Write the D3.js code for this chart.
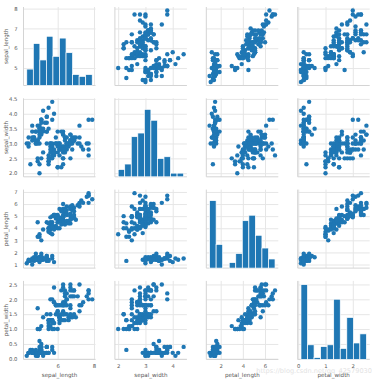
<!DOCTYPE html>
<html><head><meta charset="utf-8">
<script src="https://cdn.jsdelivr.net/npm/d3@7"></script>
<style>body{margin:0;background:#fff}svg{display:block}</style>
</head><body><svg id="c" width="377" height="380"></svg>
<script>
const sepal_length=[5.1,4.9,4.7,4.6,5.0,5.4,4.6,5.0,4.4,4.9,5.4,4.8,4.8,4.3,5.8,5.7,5.4,5.1,5.7,5.1,5.4,5.1,4.6,5.1,4.8,5.0,5.0,5.2,5.2,4.7,4.8,5.4,5.2,5.5,4.9,5.0,5.5,4.9,4.4,5.1,5.0,4.5,4.4,5.0,5.1,4.8,5.1,4.6,5.3,5.0,
7.0,6.4,6.9,5.5,6.5,5.7,6.3,4.9,6.6,5.2,5.0,5.9,6.0,6.1,5.6,6.7,5.6,5.8,6.2,5.6,5.9,6.1,6.3,6.1,6.4,6.6,6.8,6.7,6.0,5.7,5.5,5.5,5.8,6.0,5.4,6.0,6.7,6.3,5.6,5.5,5.5,6.1,5.8,5.0,5.6,5.7,5.7,6.2,5.1,5.7,
6.3,5.8,7.1,6.3,6.5,7.6,4.9,7.3,6.7,7.2,6.5,6.4,6.8,5.7,5.8,6.4,6.5,7.7,7.7,6.0,6.9,5.6,7.7,6.3,6.7,7.2,6.2,6.1,6.4,7.2,7.4,7.9,6.4,6.3,6.1,7.7,6.3,6.4,6.0,6.9,6.7,6.9,5.8,6.8,6.7,6.7,6.3,6.5,6.2,5.9];
const sepal_width=[3.5,3.0,3.2,3.1,3.6,3.9,3.4,3.4,2.9,3.1,3.7,3.4,3.0,3.0,4.0,4.4,3.9,3.5,3.8,3.8,3.4,3.7,3.6,3.3,3.4,3.0,3.4,3.5,3.4,3.2,3.1,3.4,4.1,4.2,3.1,3.2,3.5,3.6,3.0,3.4,3.5,2.3,3.2,3.5,3.8,3.0,3.8,3.2,3.7,3.3,
3.2,3.2,3.1,2.3,2.8,2.8,3.3,2.4,2.9,2.7,2.0,3.0,2.2,2.9,2.9,3.1,3.0,2.7,2.2,2.5,3.2,2.8,2.5,2.8,2.9,3.0,2.8,3.0,2.9,2.6,2.4,2.4,2.7,2.7,3.0,3.4,3.1,2.3,3.0,2.5,2.6,3.0,2.6,2.3,2.7,3.0,2.9,2.9,2.5,2.8,
3.3,2.7,3.0,2.9,3.0,3.0,2.5,2.9,2.5,3.6,3.2,2.7,3.0,2.5,2.8,3.2,3.0,3.8,2.6,2.2,3.2,2.8,2.8,2.7,3.3,3.2,2.8,3.0,2.8,3.0,2.8,3.8,2.8,2.8,2.6,3.0,3.4,3.1,3.0,3.1,3.1,3.1,2.7,3.2,3.3,3.0,2.5,3.0,3.4,3.0];
const petal_length=[1.4,1.4,1.3,1.5,1.4,1.7,1.4,1.5,1.4,1.5,1.5,1.6,1.4,1.1,1.2,1.5,1.3,1.4,1.7,1.5,1.7,1.5,1.0,1.7,1.9,1.6,1.6,1.5,1.4,1.6,1.6,1.5,1.5,1.4,1.5,1.2,1.3,1.4,1.3,1.5,1.3,1.3,1.3,1.6,1.9,1.4,1.6,1.4,1.5,1.4,
4.7,4.5,4.9,4.0,4.6,4.5,4.7,3.3,4.6,3.9,3.5,4.2,4.0,4.7,3.6,4.4,4.5,4.1,4.5,3.9,4.8,4.0,4.9,4.7,4.3,4.4,4.8,5.0,4.5,3.5,3.8,3.7,3.9,5.1,4.5,4.5,4.7,4.4,4.1,4.0,4.4,4.6,4.0,3.3,4.2,4.2,4.2,4.3,3.0,4.1,
6.0,5.1,5.9,5.6,5.8,6.6,4.5,6.3,5.8,6.1,5.1,5.3,5.5,5.0,5.1,5.3,5.5,6.7,6.9,5.0,5.7,4.9,6.7,4.9,5.7,6.0,4.8,4.9,5.6,5.8,6.1,6.4,5.6,5.1,5.6,6.1,5.6,5.5,4.8,5.4,5.6,5.1,5.1,5.9,5.7,5.2,5.0,5.2,5.4,5.1];
const petal_width=[0.2,0.2,0.2,0.2,0.2,0.4,0.3,0.2,0.2,0.1,0.2,0.2,0.1,0.1,0.2,0.4,0.4,0.3,0.3,0.3,0.2,0.4,0.2,0.5,0.2,0.2,0.4,0.2,0.2,0.2,0.2,0.4,0.1,0.2,0.2,0.2,0.2,0.1,0.2,0.2,0.3,0.3,0.2,0.6,0.4,0.3,0.2,0.2,0.2,0.2,
1.4,1.5,1.5,1.3,1.5,1.3,1.6,1.0,1.3,1.4,1.0,1.5,1.0,1.4,1.3,1.4,1.5,1.0,1.5,1.1,1.8,1.3,1.5,1.2,1.3,1.4,1.4,1.7,1.5,1.0,1.1,1.0,1.2,1.6,1.5,1.6,1.5,1.3,1.3,1.3,1.2,1.4,1.2,1.0,1.3,1.2,1.3,1.3,1.1,1.3,
2.5,1.9,2.1,1.8,2.2,2.1,1.7,1.8,1.8,2.5,2.0,1.9,2.1,2.0,2.4,2.3,1.8,2.2,2.3,1.5,2.3,2.0,2.0,1.8,2.1,1.8,1.8,1.8,2.1,1.6,1.9,2.0,2.2,1.5,1.4,2.3,2.4,1.8,1.8,2.1,2.4,2.3,1.9,2.3,2.5,2.3,1.9,2.0,2.3,1.8];

const varNames=["sepal_length","sepal_width","petal_length","petal_width"];
const xTickValues=[[6,8],[2,3,4],[2,4,6],[0,1,2]];
const yTickValues=[[5,6,7,8],[2.0,2.5,3.0,3.5,4.0,4.5],[1,2,3,4,5,6,7],[0.0,0.5,1.0,1.5,2.0,2.5]];
const yTickLabels=[["5","6","7","8"],["2.0","2.5","3.0","3.5","4.0","4.5"],["1","2","3","4","5","6","7"],["0.0","0.5","1.0","1.5","2.0","2.5"]];
const xTickLabels=[["6","8"],["2","3","4"],["2","4","6"],["0","1","2"]];
const watermark="https://blog.csdn.net/qq_42579030";

const cols=[sepal_length,sepal_width,petal_length,petal_width];
const n=4;
const L0=23.5, CS=91.4, W=72, T0=7, RS=91.3, H=78.5;
const blue="#1f77b4", gridC="#e6e6e6", spineC="#d4d4d4", txtC="#555", font="DejaVu Sans";
const tickFs=5.3, labFs=5.6;

const svg=d3.select("#c");
const domains=cols.map(c=>{const [a,b]=d3.extent(c);const p=(b-a)*0.05;return [a-p,b+p];});
const hists=cols.map(c=>{const [a,b]=d3.extent(c);
  const th=d3.range(1,10).map(k=>a+k*(b-a)/10);
  return d3.bin().domain([a,b]).thresholds(th)(c);});
const maxCount=d3.max(hists,h=>d3.max(h,b=>b.length));
const yh=d3.scaleLinear().domain([0,maxCount*1.05]).range([H,0]);

for(let i=0;i<n;i++){
  for(let j=0;j<n;j++){
    const g=svg.append("g").attr("transform",`translate(${L0+j*CS},${T0+i*RS})`);
    const x=d3.scaleLinear().domain(domains[j]).range([0,W]);
    const y=d3.scaleLinear().domain(domains[i]).range([H,0]);
    const ax=g.append("g").call(d3.axisLeft(y).tickValues(yTickValues[i]).tickSize(-W).tickPadding(6)
      .tickFormat((d,k)=> j===0? yTickLabels[i][k] : ""));
    const bx=g.append("g").attr("transform",`translate(0,${H})`).call(d3.axisBottom(x).tickValues(xTickValues[j]).tickSize(-H).tickPadding(4.5)
      .tickFormat((d,k)=> i===n-1? xTickLabels[j][k] : ""));
    [ax,bx].forEach(a=>{a.select(".domain").remove();
      a.selectAll("line").attr("stroke",gridC).attr("stroke-width",1);
      a.selectAll("text").attr("font-size",tickFs).attr("fill",txtC).attr("font-family",font);});
    g.append("line").attr("x1",0).attr("x2",0).attr("y1",0).attr("y2",H).attr("stroke",spineC);
    g.append("line").attr("x1",0).attr("x2",W).attr("y1",H).attr("y2",H).attr("stroke",spineC);
    if(i===j){
      g.selectAll("rect").data(hists[i]).enter().append("rect")
        .attr("x",d=>x(d.x0)).attr("width",d=>Math.max(0,x(d.x1)-x(d.x0)))
        .attr("y",d=>yh(d.length)).attr("height",d=>H-yh(d.length))
        .attr("fill",blue).attr("stroke","#fff").attr("stroke-width",0.7);
    } else {
      g.selectAll("circle").data(d3.range(cols[j].length)).enter().append("circle")
        .attr("cx",k=>x(cols[j][k])).attr("cy",k=>y(cols[i][k])).attr("r",2.2).attr("fill",blue);
    }
    if(j===0){
      svg.append("text").attr("transform",`translate(8,${T0+i*RS+H/2}) rotate(-90)`)
        .attr("text-anchor","middle").attr("font-size",labFs).attr("fill",txtC).attr("font-family",font).text(varNames[i]);
    }
    if(i===n-1){
      svg.append("text").attr("x",L0+j*CS+W/2).attr("y",376.5)
        .attr("text-anchor","middle").attr("font-size",labFs).attr("fill",txtC).attr("font-family",font).text(varNames[j]);
    }
  }
}
svg.append("text").attr("x",372).attr("y",372.5).attr("text-anchor","end").attr("font-size",6.6)
  .attr("fill","#d0d0d0").attr("opacity",0.6).attr("font-family",font).text(watermark);
</script></body></html>
